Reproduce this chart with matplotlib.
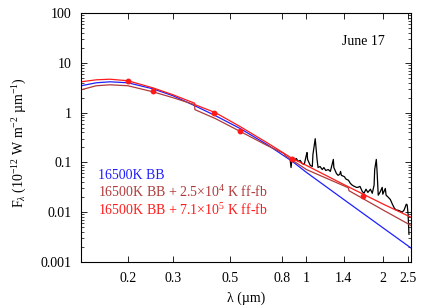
import matplotlib
matplotlib.use("Agg")
import matplotlib.pyplot as plt
from matplotlib.ticker import FixedLocator, NullLocator, LogLocator, NullFormatter

plt.rcParams['font.family'] = ['Liberation Serif', 'DejaVu Serif']
plt.rcParams['mathtext.fontset'] = 'custom'
plt.rcParams['mathtext.rm'] = 'Liberation Serif'
plt.rcParams['mathtext.it'] = 'Liberation Serif:italic'

BLUE = "#1f1fff"
BROWN = "#b03a3a"
RED = "#ff1a1a"

# 16500 K blackbody
bb_wl = [0.131, 0.15, 0.17, 0.2, 0.25, 0.3, 0.365, 0.44, 0.55, 0.7, 0.88, 1.0, 1.4, 2.0, 2.57]
bb_fl = [3.47, 3.98, 4.17, 3.98, 3.02, 2.19, 1.38, 0.87, 0.48, 0.23, 0.105, 0.063, 0.018, 0.0048, 0.0019]

# 16500 K BB + 2.5e4 K ff-fb
lo_wl = [0.131, 0.15, 0.17, 0.2, 0.25, 0.3, 0.3646, 0.3656, 0.44, 0.55, 0.7, 0.82, 0.8215,
         1.0, 1.458, 1.468, 2.0, 2.57]
lo_fl = [2.88, 3.47, 3.63, 3.47, 2.63, 2.0, 1.45, 1.15, 0.76, 0.42, 0.22, 0.15, 0.14,
         0.072, 0.031, 0.027, 0.011, 0.0054]

# 16500 K BB + 7.1e5 K ff-fb
hi_wl = [0.131, 0.15, 0.17, 0.2, 0.25, 0.3, 0.3646, 0.3656, 0.44, 0.55, 0.7, 0.88, 1.0, 1.4, 2.0, 2.57]
hi_fl = [4.17, 4.57, 4.7, 4.37, 3.16, 2.29, 1.55, 1.45, 1.0, 0.525, 0.25, 0.12, 0.087, 0.036, 0.0145, 0.0079]

# photometry
ph_wl = [0.2, 0.251, 0.435, 0.55, 0.879, 1.67]
ph_fl = [4.4, 2.75, 1.0, 0.42, 0.12, 0.021]

# observed spectrum
sp_wl = [0.863, 0.87, 0.879, 0.895, 0.912, 0.929, 0.945, 0.962, 0.98, 0.998, 1.005, 1.01,
         1.035, 1.054, 1.06, 1.082, 1.10, 1.11, 1.13, 1.153, 1.17, 1.19, 1.217, 1.24, 1.26,
         1.274, 1.28, 1.31, 1.33, 1.35, 1.36, 1.37, 1.406, 1.43, 1.46, 1.485, 1.51, 1.54,
         1.57, 1.59, 1.62, 1.655, 1.68, 1.71, 1.74, 1.78, 1.81, 1.84, 1.85, 1.877, 1.89,
         1.91, 1.94, 1.98, 1.99, 2.036, 2.05, 2.09, 2.13, 2.17, 2.21, 2.25, 2.28, 2.33,
         2.37, 2.41, 2.46, 2.48, 2.50, 2.52]
sp_fl = [0.115, 0.079, 0.126, 0.11, 0.12, 0.105, 0.11, 0.095, 0.091, 0.138, 0.158, 0.115,
         0.087, 0.083, 0.145, 0.30, 0.115, 0.079, 0.083, 0.072, 0.079, 0.069, 0.072, 0.066, 0.091,
         0.115, 0.079, 0.06, 0.055, 0.058, 0.066, 0.055, 0.052, 0.046, 0.044, 0.038, 0.035, 0.033,
         0.0316, 0.0316, 0.033, 0.026, 0.024, 0.029, 0.025, 0.029, 0.024, 0.035, 0.072, 0.115, 0.066,
         0.022, 0.025, 0.0316, 0.023, 0.030, 0.022, 0.020, 0.018, 0.0145, 0.012, 0.011, 0.011, 0.0105,
         0.010, 0.011, 0.0145, 0.014, 0.0091, 0.0036]

xticks = [0.2, 0.3, 0.5, 0.8, 1, 1.4, 2, 2.5]
xlabels = ["0.2", "0.3", "0.5", "0.8", "1", "1.4", "2", "2.5"]
yticks = [0.001, 0.01, 0.1, 1, 10, 100]
ylabels = ["0.001", "0.01", "0.1", "1", "10", "100"]

fig = plt.figure(figsize=(4.36, 3.05), dpi=100)
ax = fig.add_axes([0.186, 0.141, 0.757, 0.816])

ax.plot(sp_wl, sp_fl, color="black", lw=0.9)
ax.plot(bb_wl, bb_fl, color=BLUE, lw=0.9)
ax.plot(lo_wl, lo_fl, color=BROWN, lw=0.9)
ax.plot(hi_wl, hi_fl, color=RED, lw=0.9)
ax.plot(ph_wl, ph_fl, "o", color=RED, ms=3.2, mec=RED)

ax.set_xscale("log")
ax.set_yscale("log")
ax.set_xlim(0.131, 2.57)
ax.set_ylim(0.001, 100)
ax.xaxis.set_major_locator(FixedLocator(xticks))
ax.set_xticklabels(xlabels)
ax.xaxis.set_minor_locator(NullLocator())
ax.yaxis.set_major_locator(FixedLocator(yticks))
ax.set_yticklabels(ylabels)
ax.yaxis.set_minor_locator(LogLocator(base=10, subs=range(2, 10)))
ax.yaxis.set_minor_formatter(NullFormatter())
ax.tick_params(which="both", direction="in", top=True, right=True, labelsize=10, pad=7)
ax.tick_params(which="major", length=4, width=0.6)
ax.tick_params(which="minor", length=2, width=0.5)
for s in ax.spines.values():
    s.set_linewidth(0.8)

ax.set_xlabel("λ (µm)", fontsize=10, labelpad=5)
ax.set_ylabel(r"F$_\lambda$ (10$^{-12}$ W m$^{-2}$ µm$^{-1}$)", fontsize=10)
ax.yaxis.set_label_coords(-0.158, 0.48)

ax.text(0.79, 0.87, "June 17", transform=ax.transAxes, fontsize=10)
ax.text(0.052, 0.335, "16500K BB", transform=ax.transAxes, color=BLUE, fontsize=10)
ax.text(0.052, 0.262, r"16500K BB + 2.5×10$^4$ K ff-fb", transform=ax.transAxes,
        color=BROWN, fontsize=10)
ax.text(0.052, 0.188, r"16500K BB + 7.1×10$^5$ K ff-fb", transform=ax.transAxes,
        color=RED, fontsize=10)

fig.savefig("out.png", dpi=100)
